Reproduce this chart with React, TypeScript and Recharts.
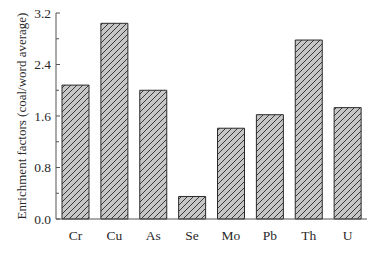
import React from 'react';
import { BarChart, Bar, XAxis, YAxis, Label } from 'recharts';

const elements = ['Cr', 'Cu', 'As', 'Se', 'Mo', 'Pb', 'Th', 'U'];
const factors = [2.08, 3.04, 2.0, 0.35, 1.41, 1.62, 2.78, 1.73];
const yTicks = [0, 0.4, 0.8, 1.2, 1.6, 2.0, 2.4, 2.8, 3.2];
const majorTicks = [0, 0.8, 1.6, 2.4, 3.2];

const data = elements.map((name, i) => ({ name, value: factors[i] }));

const FONT = '"Liberation Serif", "Times New Roman", serif';
const FRAME = '#555';

const YTick = (props: any) => {
    const { x, y, payload } = props;
    const major = majorTicks.some(t => Math.abs(t - payload.value) < 1e-6);
    const axisX = x + 5;
    return (
        <g>
            <line x1={axisX} x2={axisX + (major ? 4 : 3)} y1={y} y2={y} stroke={FRAME} strokeWidth={1} />
            {major && (
                <text x={x} y={y} dy={4.5} textAnchor="end" fontFamily={FONT} fontSize={13.5} fill="#2a2a2a">
                    {payload.value.toFixed(1)}
                </text>
            )}
        </g>
    );
};

const App: React.FC = () => {
    return (
        <div style={{ position: 'absolute', left: 0, top: 0, background: '#fff' }}>
            <BarChart width={381} height={257} data={data} margin={{ top: 13, right: 14, left: 0, bottom: 0 }} barSize={27}>
                <defs>
                    <pattern id="hatch" patternUnits="userSpaceOnUse" width={6} height={6}>
                        <rect width={6} height={6} fill="#c6c6c6" />
                        <path d="M-1,1 l2,-2 M0,6 l6,-6 M5,7 l2,-2" stroke="#2a2a2a" strokeWidth={0.9} />
                    </pattern>
                </defs>
                <XAxis
                    dataKey="name"
                    height={38}
                    tickLine={false}
                    axisLine={{ stroke: FRAME }}
                    tick={{ fontFamily: FONT, fontSize: 13.5, fill: '#2a2a2a' }}
                    tickMargin={5}
                />
                <XAxis xAxisId="top" orientation="top" dataKey="name" height={0} tick={false} tickLine={false} axisLine={{ stroke: '#999' }} />
                <YAxis
                    domain={[0, 3.2]}
                    ticks={yTicks}
                    interval={0}
                    width={56}
                    tickSize={0}
                    tickMargin={5}
                    axisLine={{ stroke: FRAME }}
                    tick={<YTick />}
                >
                    <Label
                        content={({ viewBox }: any) => {
                            const cx = viewBox.x + 21;
                            const cy = viewBox.y + viewBox.height / 2;
                            return (
                                <text x={cx} y={cy} transform={`rotate(-90, ${cx}, ${cy})`} textAnchor="middle" dominantBaseline="central" fontFamily={FONT} fontSize={13} fill="#2a2a2a">
                                    Enrichment factors (coal/word average)
                                </text>
                            );
                        }}
                    />
                </YAxis>
                <YAxis yAxisId="right" orientation="right" width={0} domain={[0, 3.2]} tick={false} tickLine={false} axisLine={{ stroke: FRAME }} />
                <Bar dataKey="value" fill="url(#hatch)" stroke="#2a2a2a" strokeWidth={1} isAnimationActive={false} />
            </BarChart>
        </div>
    );
};

export default App;
